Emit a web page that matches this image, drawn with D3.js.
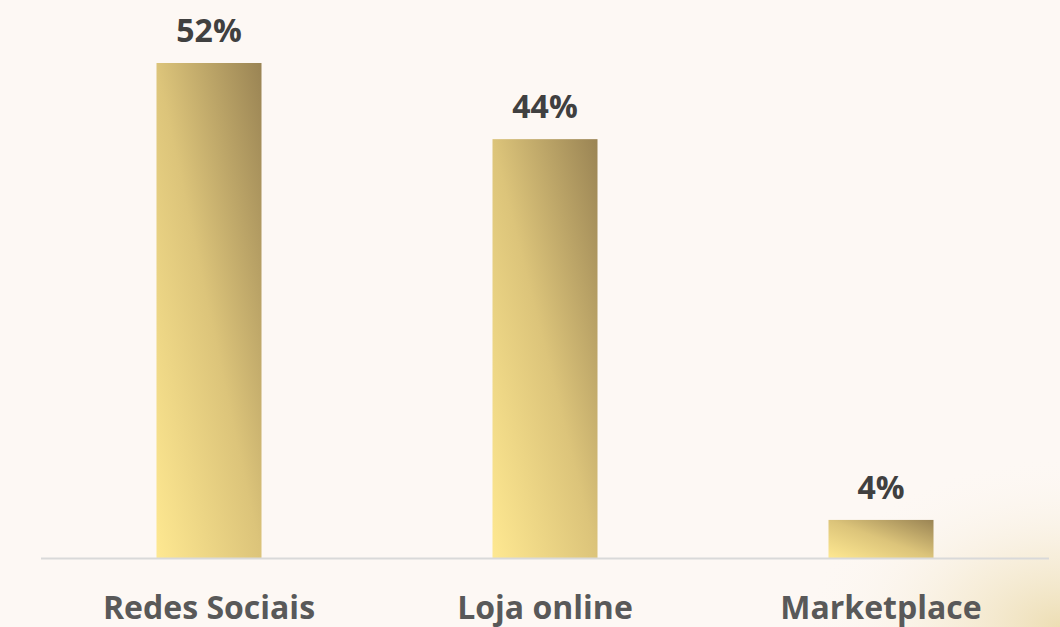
<!DOCTYPE html>
<html>
<head>
<meta charset="utf-8">
<script src="https://cdn.jsdelivr.net/npm/d3@7"></script>
<style>
  html, body { margin: 0; padding: 0; background: #fdf8f4; }
  svg { display: block; }
</style>
</head>
<body>
<div id="chart"></div>
<script>
// Canais de venda (%)
const categories = ["Redes Sociais", "Loja online", "Marketplace"];
const values = [52, 44, 4];
const valueLabels = ["52%", "44%", "4%"];

const W = 1060, H = 627;
const svg = d3.select("#chart").append("svg")
  .attr("width", W).attr("height", H);

const defs = svg.append("defs");

// warm glow in the lower-right corner of the background
const glow = defs.append("radialGradient")
  .attr("id", "glow").attr("cx", 1.0).attr("cy", 1.0).attr("r", 0.75)
  .attr("gradientTransform", "rotate(-25 1 1)");
glow.append("stop").attr("offset", 0).attr("stop-color", "#ead9a8").attr("stop-opacity", 0.85);
glow.append("stop").attr("offset", 0.45).attr("stop-color", "#f1e4c2").attr("stop-opacity", 0.45);
glow.append("stop").attr("offset", 1).attr("stop-color", "#fdf8f4").attr("stop-opacity", 0);

// gold bar fill: light at bottom-left, dark olive at top-right
const gold = defs.append("linearGradient")
  .attr("id", "gold")
  .attr("x1", 0).attr("y1", 1).attr("x2", 1).attr("y2", 0);
gold.append("stop").attr("offset", 0).attr("stop-color", "#fee891");
gold.append("stop").attr("offset", 0.5).attr("stop-color", "#dcc47a");
gold.append("stop").attr("offset", 1).attr("stop-color", "#9a8454");

svg.append("rect").attr("width", W).attr("height", H).attr("fill", "#fdf8f4");
svg.append("rect")
  .attr("x", 720).attr("y", 400).attr("width", 340).attr("height", 227)
  .attr("fill", "url(#glow)");

const left = 41, right = 1049, baseY = 558, topY = 63;

const x = d3.scaleBand()
  .domain(categories)
  .range([left, right])
  .paddingInner(0.6875)
  .paddingOuter(0.34375);

const y = d3.scaleLinear()
  .domain([0, d3.max(values)])
  .range([baseY, topY]);

const data = categories.map((c, i) => ({ c, v: values[i], label: valueLabels[i] }));

svg.append("g").selectAll("rect")
  .data(data)
  .join("rect")
  .attr("x", d => x(d.c))
  .attr("y", d => y(d.v))
  .attr("width", x.bandwidth())
  .attr("height", d => baseY - y(d.v))
  .attr("fill", "url(#gold)");

// category axis line
svg.append("line")
  .attr("x1", left).attr("x2", right)
  .attr("y1", baseY + 0.5).attr("y2", baseY + 0.5)
  .attr("stroke", "#d9d9d9").attr("stroke-width", 2);

// value labels above bars
svg.append("g").selectAll("text")
  .data(data)
  .join("text")
  .attr("x", d => x(d.c) + x.bandwidth() / 2)
  .attr("y", d => y(d.v) - 21)
  .attr("text-anchor", "middle")
  .attr("font-family", "'Open Sans', sans-serif")
  .attr("font-weight", 700)
  .attr("font-size", 32)
  .attr("fill", "#404040")
  .text(d => d.label);

// category labels
svg.append("g").selectAll("text")
  .data(data)
  .join("text")
  .attr("x", d => x(d.c) + x.bandwidth() / 2)
  .attr("y", 619)
  .attr("text-anchor", "middle")
  .attr("font-family", "'Open Sans', sans-serif")
  .attr("font-weight", 700)
  .attr("font-size", 32)
  .attr("fill", "#595959")
  .text(d => d.c);
</script>
</body>
</html>
